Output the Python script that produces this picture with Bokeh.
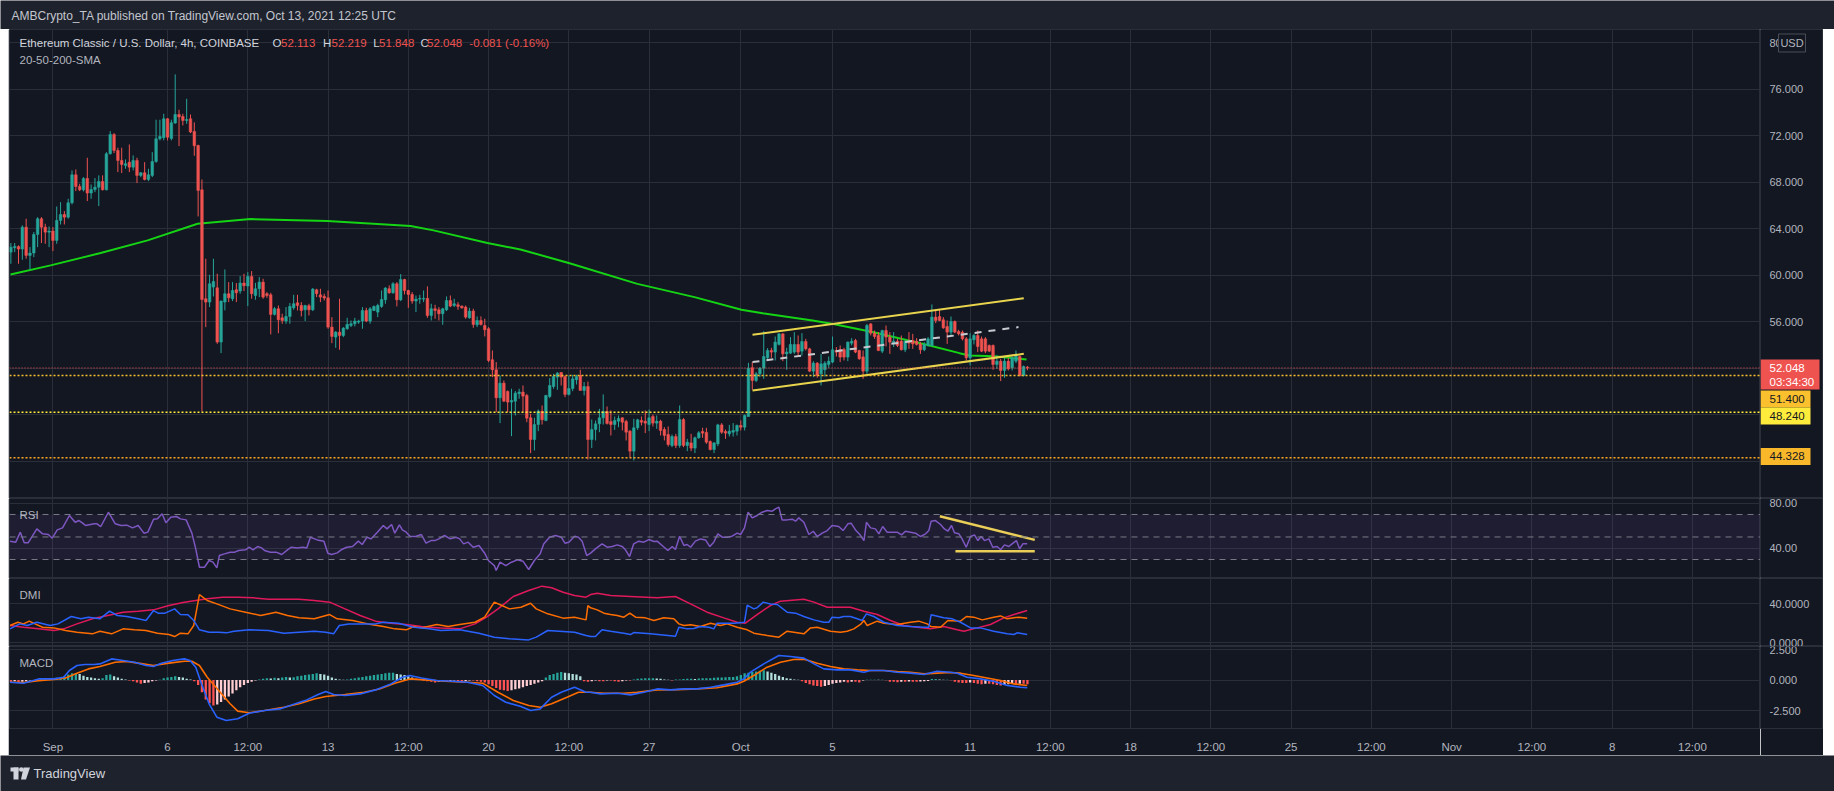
import pandas as pd
from bokeh.plotting import figure
from bokeh.layouts import column, row
from bokeh.models import (Range1d, FixedTicker, Span, Label, BoxAnnotation, Spacer,
                          CustomJSTickFormatter, ColumnDataSource)
from bokeh.core.properties import value
from bokeh.embed import file_html
from bokeh.resources import INLINE

# ---------------- data ----------------
bar_start = "2021-08-30 04:00"   # 4h bars, ETC/USD Coinbase
# (open, high, low, close)
ohlc = [
 (62.01,62.79,61.01,62.44),(62.39,62.79,62.01,62.50),(62.50,62.59,61.01,62.27),(62.27,64.31,61.35,64.16),(64.16,64.88,61.44,61.73),
 (61.73,62.44,60.49,61.93),(61.93,63.73,61.58,63.53),(63.53,65.02,62.44,64.88),(64.88,65.02,62.79,64.16),(64.16,64.45,62.73,63.73),
 (63.73,64.22,62.44,63.82),(63.82,64.16,62.10,63.02),(63.02,65.94,62.73,64.74),(64.74,66.31,64.39,65.25),(65.25,65.54,64.39,65.02),
 (65.02,66.60,64.88,66.26),(66.26,69.04,66.11,68.66),(68.66,69.12,67.26,67.66),(67.66,67.89,67.26,67.37),(67.37,68.46,67.23,68.35),
 (68.35,70.13,66.40,67.09),(67.09,67.83,66.60,67.40),(67.40,68.38,67.17,67.60),(67.60,68.61,65.97,68.09),(68.09,68.61,67.32,67.37),
 (67.37,70.61,67.32,70.47),(70.47,72.42,70.41,72.13),(72.13,72.25,70.53,70.76),(70.76,70.99,68.89,69.90),(69.90,70.99,68.81,69.55),
 (69.47,69.98,69.18,69.61),(69.75,71.27,68.89,69.32),(69.32,70.33,69.04,69.90),(69.90,70.13,67.95,68.61),(68.61,68.89,68.46,68.84),
 (68.84,69.75,68.18,68.26),(68.26,69.18,68.12,68.66),(68.61,70.61,68.46,69.81),(69.81,73.40,69.70,71.76),(71.76,73.40,71.62,71.96),
 (71.85,73.91,71.62,73.48),(73.48,73.54,71.62,71.90),(71.79,73.40,71.62,73.14),(73.11,77.30,73.05,73.85),(73.85,74.26,71.13,73.63),
 (73.68,73.91,72.91,73.34),(73.34,75.20,73.05,73.42),(73.48,73.85,72.25,72.34),(72.39,73.17,70.30,71.16),(71.19,71.25,65.08,67.32),
 (67.37,68.26,48.31,57.94),(58.00,61.44,55.56,57.71),(57.71,60.06,57.28,59.29),(59.00,61.44,58.20,59.49),(58.94,60.15,54.13,54.27),
 (54.27,57.85,53.32,57.80),(57.71,60.52,57.00,58.43),(58.43,59.43,57.71,58.08),(58.00,59.43,57.80,58.71),(58.77,59.35,57.71,58.51),
 (58.66,59.95,58.43,59.35),(59.35,60.15,58.66,59.12),(59.09,60.29,57.37,59.92),(59.92,60.38,58.00,58.43),(58.28,59.37,57.91,58.86),
 (58.86,59.86,58.14,59.43),(59.43,59.72,58.00,58.14),(58.43,58.57,58.08,58.28),(58.34,58.51,54.93,56.65),(56.65,57.28,56.56,57.14),
 (57.14,57.42,55.04,56.19),(56.36,56.71,55.85,56.13),(56.08,57.28,55.85,56.48),(56.48,57.63,55.85,57.34),(57.22,58.34,57.05,57.57),
 (57.65,58.34,56.99,57.42),(57.42,57.71,56.48,56.99),(57.05,57.48,56.08,57.42),(57.40,57.57,56.56,57.05),(57.05,58.92,56.94,58.83),
 (58.77,58.86,58.14,58.43),(58.34,58.86,57.71,58.14),(58.20,58.43,57.85,58.06),(58.08,58.71,55.42,55.56),(55.56,56.42,54.18,54.76),
 (54.70,55.22,53.78,55.13),(55.13,58.00,53.61,54.84),(54.84,55.56,54.70,55.47),(55.42,56.36,55.33,55.79),(55.70,56.13,55.56,55.85),
 (55.85,56.36,55.62,56.08),(55.99,56.19,55.85,56.08),(56.08,57.28,55.42,56.99),(56.99,57.22,55.99,56.08),(56.08,57.28,55.85,57.14),
 (56.99,57.42,56.94,57.34),(56.85,57.57,56.42,57.42),(57.34,58.71,57.22,57.94),(57.91,59.00,57.57,58.92),(58.86,59.15,58.43,58.51),
 (58.51,59.43,58.43,59.29),(59.29,59.43,57.34,57.91),(57.91,60.12,57.80,59.66),(59.66,59.72,58.37,58.71),(58.71,58.77,57.22,58.37),
 (58.37,58.57,57.57,57.80),(57.80,58.28,56.85,57.97),(57.97,58.34,57.57,58.03),(57.97,58.71,57.71,58.03),(58.03,59.06,56.36,56.56),
 (56.56,57.57,56.13,57.14),(57.14,57.48,56.28,56.99),(57.05,57.28,56.13,56.71),(56.71,57.22,55.76,57.14),(57.05,58.20,56.94,57.85),
 (57.85,58.28,57.28,57.37),(57.42,58.00,57.28,57.57),(57.48,57.71,57.05,57.34),(57.37,57.42,57.14,57.22),(57.28,57.42,56.28,56.42),
 (56.36,57.22,56.28,56.94),(56.94,57.14,55.50,55.79),(55.76,56.48,55.56,56.13),(56.13,56.48,55.70,55.79),(55.70,56.28,54.76,55.33),
 (55.42,55.56,52.55,52.69),(52.75,53.55,51.26,51.89),(51.89,52.55,48.25,49.48),(49.48,51.40,47.30,50.74),(50.74,50.97,49.11,49.19),
 (50.03,50.11,48.25,49.11),(49.11,50.26,46.18,49.25),(49.19,50.06,47.96,49.88),(49.83,50.26,49.40,49.97),
 (49.97,50.54,48.25,49.62),(49.68,49.82,47.38,47.73),(47.76,48.10,44.72,45.89),(45.89,47.76,44.95,47.18),(47.18,48.47,46.61,48.33),
 (48.33,48.82,47.18,47.59),(47.53,49.74,47.47,49.68),(49.59,51.17,49.45,50.54),(50.45,51.54,50.25,51.31),(51.26,51.69,50.17,51.60),
 (51.66,51.69,50.54,51.26),(51.31,51.40,49.54,49.77),(49.77,51.40,49.68,50.28),(50.28,51.46,50.05,51.11),(51.03,51.46,50.62,51.31),
 (51.40,51.89,50.11,50.11),(50.11,50.83,49.68,50.45),(50.45,50.88,44.17,45.89),(45.89,47.61,45.15,46.75),(46.75,47.53,45.81,47.24),
 (47.24,48.53,46.52,47.76),(47.76,49.77,47.18,48.30),(48.30,48.73,47.18,47.27),(47.44,48.39,46.24,47.18),(47.18,47.87,46.72,47.53),
 (47.47,47.96,46.95,47.70),(47.76,47.81,46.67,47.38),(47.44,47.59,45.81,46.52),(46.61,46.72,44.37,44.89),(44.89,47.67,44.09,46.90),
 (46.90,47.67,46.72,47.59),(47.53,47.87,47.10,47.38),(47.47,48.39,46.44,47.30),(47.18,48.47,46.61,47.76),(47.87,48.04,47.01,47.30),
 (47.30,47.96,46.81,47.47),(47.47,47.59,46.24,46.67),(46.75,46.95,45.81,46.24),(46.32,47.01,45.29,45.46),(45.38,46.32,45.23,46.15),
 (46.15,46.38,45.15,45.38),(45.38,48.82,45.18,47.61),(47.61,47.73,45.23,45.38),(45.38,45.95,44.89,45.66),(45.60,46.38,44.89,45.15),
 (45.15,46.15,44.72,46.04),(46.04,46.61,45.95,46.47),(46.58,46.90,46.04,46.44),(46.50,46.90,45.52,45.66),(45.72,45.81,44.95,45.03),
 (45.03,45.66,44.72,45.60),(45.52,47.24,45.32,47.15),(47.15,47.30,46.38,46.52),(46.58,46.75,45.95,46.44),(46.38,47.15,46.15,46.61),
 (46.52,47.30,46.15,46.67),(46.61,47.18,46.24,47.10),(47.10,47.53,46.67,46.95),(46.95,48.04,46.67,47.96),(47.87,52.49,47.87,52.03),
 (52.06,52.55,50.17,50.97),(50.97,51.69,50.83,51.54),(51.54,52.12,51.26,52.03),(52.03,55.21,51.11,53.03),(52.92,53.75,52.69,53.55),
 (53.55,53.78,52.92,53.41),(53.41,54.75,52.69,54.27),(54.07,55.04,53.98,54.98),(54.98,55.04,52.63,53.26),(53.26,53.78,51.89,53.41),
 (53.32,54.70,53.26,54.07),(53.41,55.13,53.26,54.07),(54.07,54.84,53.03,53.41),(53.49,55.04,53.12,54.32),(54.32,54.55,53.55,53.69),
 (53.69,53.78,51.69,51.77),(51.77,52.63,51.26,52.46),(52.46,52.55,51.20,51.40),(51.54,53.26,50.54,52.40),(51.89,52.63,51.31,52.46),
 (52.35,53.03,52.06,52.63),(52.55,54.75,52.46,53.61),(53.55,53.84,53.03,53.41),(53.61,53.98,52.55,52.98),(53.63,53.78,52.69,52.98),
 (52.98,54.32,52.63,54.27),(54.18,54.61,53.98,54.35),(54.41,54.55,53.32,53.41),(53.55,53.61,52.75,52.83),(53.00,53.55,51.11,51.77),
 (51.77,55.84,51.54,55.70),(55.84,55.90,54.84,55.04),(55.04,55.27,54.55,54.75),(54.84,55.13,53.49,53.55),(53.49,55.33,53.32,55.27),
 (55.27,55.70,53.89,54.70),(54.70,55.13,53.26,54.27),(54.18,55.13,53.84,54.35),(54.35,54.55,53.84,53.98),(54.35,54.84,53.55,53.61),
 (53.61,54.47,53.41,54.35),(54.35,55.13,53.69,54.18),(54.41,54.98,53.69,54.12),(54.35,54.61,53.98,54.07),(54.12,54.27,53.26,53.61),
 (53.61,54.27,53.49,54.07),(54.00,54.70,53.89,54.55),(53.98,57.51,53.89,56.42),(56.42,57.05,55.90,56.13),(56.47,57.13,56.07,56.13),
 (56.19,56.42,55.41,55.50),(55.61,56.13,54.12,55.13),(55.13,56.47,54.84,56.04),(56.04,56.13,55.04,55.13),(55.18,55.33,54.84,54.98),
 (55.13,55.27,54.41,54.55),(54.55,54.70,52.69,52.92),(52.92,55.04,52.26,54.55),(54.47,54.98,54.07,54.84),(54.84,55.27,53.41,53.89),
 (54.55,54.75,53.41,53.49),(54.55,54.70,53.32,53.49),(53.98,54.07,53.41,53.49),(53.98,54.07,51.89,52.35),(52.35,53.12,51.97,52.63),
 (52.63,52.83,50.91,51.83),(51.83,52.92,51.20,52.63),(52.63,52.92,51.83,51.97),(52.06,53.03,51.83,52.92),(52.63,53.55,52.46,53.12),
 (53.03,53.12,51.31,51.40),(51.40,52.26,51.31,52.17),(52.113,52.219,51.848,52.048),
]

# 200-SMA (day since Sep 1, value)
sma200 = [(-1.85,60.09),(-0.10,60.87),(2.08,61.93),(4.13,63.02),(6.31,64.45),(8.62,64.85),(11.97,64.68),
          (15.60,64.25),(16.60,63.88),(18.95,62.79),(20.39,62.24),(22.53,61.06),(25.49,59.28),(27.98,58.14),
          (30.03,57.05),(30.95,56.76),(33.13,56.13),(34.09,55.80),(35.79,55.12),(38.10,54.05),(39.54,53.32),
          (39.97,53.12),(41.06,53.05),(42.46,52.77)]

# drawn channel (day, price)
channel_upper = [(30.51, 54.90), (42.34, 58.05)]
channel_lower = [(30.51, 50.11), (42.34, 53.26)]
channel_mid = [(30.51, 52.55), (42.11, 55.56)]

last_price = 52.048
level_a = 51.400
level_b = 48.240
level_c = 44.328

rsi = [(-1.87,46.3),(-1.62,45.4),(-1.42,54.3),(-1.25,44.8),(-1.08,44.8),(-0.70,57.2),(-0.45,52.8),(-0.20,52.2),
 (-0.03,48.9),(0.19,56.3),(0.42,58.1),(0.72,69.1),(0.97,63.1),(1.14,64.6),(1.30,62.3),(1.42,60.2),(1.80,61.7),
 (1.92,61.7),(2.09,59.3),(2.42,72.0),(2.72,61.7),(2.97,60.2),(3.22,60.5),(3.47,58.1),(3.72,60.2),(3.97,53.4),
 (4.14,54.3),(4.39,65.8),(4.56,66.1),(4.76,70.6),(4.93,62.6),(5.14,67.6),(5.39,68.2),(5.56,66.1),(5.81,65.2),
 (6.06,53.4),(6.23,39.4),(6.39,23.1),(6.61,23.1),(6.81,29.1),(6.98,27.6),(7.15,22.6),(7.26,33.5),(7.48,35.0),
 (7.73,36.5),(7.93,36.5),(8.10,38.0),(8.40,38.6),(8.56,40.9),(8.73,38.6),(8.93,41.5),(9.10,40.3),(9.23,38.0),
 (9.48,36.5),(9.73,36.5),(9.98,34.4),(10.23,38.6),(10.40,40.9),(10.65,40.3),(10.90,40.9),(11.07,40.3),(11.23,49.8),
 (11.53,47.4),(11.82,46.3),(11.99,35.6),(12.15,34.4),(12.40,35.9),(12.57,38.6),(12.82,40.9),(13.07,41.5),(13.32,46.3),
 (13.49,43.3),(13.70,49.8),(13.87,48.3),(14.15,54.3),(14.41,60.2),(14.57,57.2),(14.77,61.1),(14.91,53.4),(15.11,60.8),
 (15.24,56.3),(15.41,54.3),(15.57,50.7),(15.82,50.4),(16.07,52.2),(16.27,44.5),(16.49,46.8),(16.66,46.8),(16.83,48.3),
 (17.08,51.3),(17.33,48.3),(17.58,49.8),(17.74,48.3),(17.91,43.9),(18.11,45.4),(18.33,40.9),(18.58,42.4),(18.83,35.6),
 (18.99,29.1),(19.25,24.6),(19.33,20.2),(19.50,27.6),(19.75,24.6),(20.00,27.6),(20.25,29.7),(20.50,28.5),(20.75,21.1),
 (21.00,29.1),(21.25,35.0),(21.41,43.9),(21.66,49.8),(21.92,51.3),(22.17,49.8),(22.33,44.5),(22.50,45.4),(22.75,50.7),
 (22.92,49.8),(23.08,46.3),(23.28,33.5),
 (23.45,35.6),(23.66,39.4),(23.95,43.9),(24.17,40.9),(24.39,41.5),(24.61,43.0),(24.83,41.5),(24.97,38.6),(25.15,32.6),
 (25.33,43.9),(25.55,46.3),(25.77,45.4),(25.99,47.7),(26.21,46.0),(26.35,46.3),(26.57,42.4),(26.82,38.0),(27.01,41.5),
 (27.15,38.9),(27.33,50.7),(27.52,42.4),(27.66,43.3),(27.81,40.9),(28.02,46.3),(28.24,48.3),(28.46,47.4),(28.65,41.5),
 (28.82,45.4),(29.00,52.8),(29.19,49.8),(29.41,49.8),(29.62,50.7),(29.84,53.4),(29.99,52.2),(30.16,58.1),(30.32,72.0),
 (30.50,67.0),(30.71,69.1),(30.93,72.0),(31.15,73.5),(31.37,72.9),(31.51,75.0),(31.66,76.5),(31.80,65.2),(32.02,65.2),
 (32.24,65.8),(32.39,64.0),(32.53,67.0),(32.75,63.1),(32.97,52.2),(33.16,55.1),(33.33,50.4),(33.55,53.4),(33.77,55.7),
 (33.98,60.2),(34.27,59.3),(34.46,55.7),(34.67,61.7),(34.81,62.3),(35.00,56.3),(35.19,52.2),(35.37,46.8),(35.48,63.1),
 (35.66,58.1),(35.87,57.2),(36.02,52.8),(36.19,59.3),(36.38,54.3),(36.60,54.3),(36.82,54.3),(37.01,51.9),(37.18,55.1),
 (37.40,54.3),(37.62,53.4),(37.84,50.4),(38.06,52.8),(38.20,55.7),(38.30,64.0),(38.49,64.6),(38.71,61.1),(38.88,57.2),
 (39.03,55.1),(39.19,60.2),(39.32,53.7),(39.51,52.8),(39.65,48.3),(39.83,40.9),(40.02,50.4),(40.19,51.9),(40.34,46.8),
 (40.48,50.4),(40.63,46.8),(40.82,48.3),(40.99,40.9),(41.18,41.5),(41.33,38.6),(41.50,43.0),(41.69,41.5),(41.83,43.9),
 (42.02,46.8),(42.16,39.4),(42.30,43.9),(42.49,43.9)]
rsi_trend = [(38.68, 68.5), (42.82, 47.4)]
rsi_support = [(39.36, 37.4), (42.82, 37.4)]

adx = [(-1.87,17.7),(-1.28,16.0),(-0.62,14.3),(0.05,12.6),(0.47,14.3),(1.05,19.4),(1.72,24.6),(2.39,28.0),(3.06,31.4),
 (3.72,32.4),(4.39,33.8),(5.06,38.2),(5.73,41.7),(6.23,43.4),(6.73,45.1),(7.40,46.8),(8.06,46.8),(8.73,46.1),(9.40,44.7),
 (10.07,44.7),(10.73,44.7),(11.40,43.4),(12.07,41.7),(12.74,34.8),(13.40,28.0),(14.07,22.2),(14.74,20.1),(15.41,18.8),
 (16.07,16.7),(16.91,15.3),(17.74,14.3),(18.41,19.4),(18.91,26.3),(19.41,34.8),(20.08,47.5),(20.75,53.6),(21.33,58.1),
 (21.75,56.4),(22.25,51.9),(22.75,48.5),(23.25,46.8),(23.45,49.5),(23.74,50.9),(24.32,48.5),(25.19,47.5),(26.35,46.1),
 (27.15,47.5),(27.81,39.9),(28.53,31.4),(29.26,25.6),(29.84,21.1),(30.20,20.1),(30.71,29.0),(31.29,38.2),(31.73,42.7),
 (32.75,44.7),(33.19,41.7),(33.77,36.5),(34.78,36.5),(35.37,32.4),(35.95,29.0),(36.53,22.9),(37.11,17.7),(37.69,16.0),
 (38.27,14.3),(38.85,16.7),(39.44,13.3),(39.73,11.9),(40.31,15.3),(40.89,18.8),(41.47,25.6),(41.91,29.0),(42.49,33.1)]
plus_di = [(-1.87,14.3),(-1.45,19.4),(-1.12,17.7),(-0.70,21.1),(-0.12,17.7),(0.22,19.4),(0.80,27.0),(1.22,24.6),
 (1.55,26.3),(2.05,24.6),(2.47,32.4),(2.81,28.0),(3.22,27.0),(3.72,24.6),(4.06,22.9),(4.39,33.1),(4.59,30.4),(4.89,30.4),
 (5.31,34.8),(5.56,29.0),(5.89,28.7),(6.14,22.9),(6.39,13.3),(6.81,10.9),(7.23,10.9),(7.56,10.2),(7.90,11.9),(8.56,13.3),
 (9.40,12.6),(10.07,9.9),(10.73,10.9),(11.40,11.9),(11.90,10.9),(12.24,9.2),(12.49,17.7),(12.90,19.4),(13.40,19.4),
 (14.07,19.4),(14.41,21.1),(15.07,20.1),(15.74,16.0),(16.41,14.3),(16.91,12.6),(17.74,13.3),(18.58,9.9),(19.25,5.8),
 (19.91,4.1),(20.75,3.0),(21.08,5.8),(21.58,12.6),(22.08,11.9),(22.75,10.9),(23.25,7.5),
 (23.45,6.4),(23.66,6.4),(23.95,13.3),(24.32,11.9),(24.90,9.9),(25.19,8.5),(25.33,10.5),(26.06,9.2),(27.15,6.8),
 (27.30,16.0),(27.66,14.3),(27.95,14.7),(28.24,16.7),(28.61,16.0),(28.82,14.3),(28.97,20.1),(29.26,20.1),(29.70,20.1),
 (30.16,21.1),(30.28,38.6),(30.57,34.8),(30.71,35.9),(30.98,41.7),(31.29,39.9),(31.59,39.3),(32.02,31.4),(32.39,30.4),
 (32.75,27.0),(33.19,23.5),(33.62,21.1),(33.84,21.1),(33.98,26.3),(34.27,25.6),(34.49,27.0),(34.78,27.0),(35.08,24.6),
 (35.29,22.9),(35.48,29.7),(35.80,27.0),(36.24,21.1),(36.82,17.7),(37.40,16.7),(37.98,16.0),(38.20,16.0),(38.30,28.7),
 (38.85,25.6),(39.22,24.6),(39.58,21.1),(40.02,15.3),(40.45,15.3),(41.03,11.9),(41.62,9.2),(41.91,8.5),(42.05,10.2),(42.49,8.5)]
minus_di = [(-1.87,17.7),(-1.53,21.1),(-1.28,19.4),(-1.03,22.2),(-0.78,19.4),(-0.45,16.0),(0.05,15.3),(0.55,12.6),
 (1.05,10.9),(1.72,9.2),(2.05,11.9),(2.56,9.2),(3.06,14.3),(3.56,13.3),(4.06,12.6),(4.56,9.9),(5.06,8.5),(5.31,6.4),
 (5.56,9.9),(5.89,9.2),(6.14,17.7),(6.39,49.5),(6.73,43.4),(7.15,39.9),(7.73,34.8),(8.40,31.4),(9.06,28.0),(9.73,31.4),
 (10.23,28.0),(10.73,25.6),(11.40,24.6),(12.07,29.0),(12.40,24.6),(13.07,22.9),(13.74,19.4),(14.41,16.7),(14.91,14.3),
 (15.41,13.3),(15.74,16.7),(16.07,15.3),(16.74,18.8),(17.24,16.7),(17.74,18.8),(18.41,21.1),(18.83,26.3),(19.25,41.7),
 (19.58,38.2),(19.91,34.8),(20.41,36.5),(20.83,40.6),(21.08,34.8),(21.58,29.7),(22.25,25.3),(22.75,26.3),(23.25,23.5),
 (23.33,38.2),(23.45,35.9),(23.74,33.8),(24.03,30.4),(24.32,29.0),(24.61,28.0),(24.90,26.3),(25.16,30.4),(25.41,26.3),
 (25.84,25.6),(26.21,22.9),(26.64,25.6),(27.08,24.6),(27.30,19.4),(27.52,17.7),(27.81,18.4),(28.24,16.7),(28.68,20.1),
 (29.11,17.7),(29.41,19.4),(29.84,16.0),(30.28,13.3),(30.57,9.9),(31.15,7.5),(31.66,5.8),(32.02,11.9),(32.31,10.9),
 (32.75,9.2),(33.04,15.3),(33.33,16.0),(33.91,11.9),(34.35,10.9),(34.64,11.9),(34.93,14.3),(35.22,18.8),(35.37,22.9),
 (35.51,17.7),(35.95,22.2),(36.24,20.1),(36.82,18.8),(37.40,21.1),(37.76,22.2),(38.13,19.4),(38.30,16.7),(38.71,16.0),
 (39.03,22.9),(39.58,22.2),(39.84,27.0),(40.16,26.3),(40.53,23.5),(41.03,26.3),(41.33,27.6),(41.62,24.6),(41.91,25.6),
 (42.13,26.3),(42.49,25.3)]

macd_line = [(-1.87,-0.18),(-1.28,-0.26),(-0.62,0.09),(0.05,0.09),(0.47,0.23),(0.72,0.78),(1.05,1.19),(1.39,1.27),
 (1.80,1.27),(2.05,1.32),(2.56,1.73),(3.06,1.60),(3.56,1.46),(4.06,1.19),(4.39,1.11),(4.73,1.38),(5.23,1.60),(5.73,1.73),
 (5.98,1.60),(6.23,1.05),(6.48,-0.30),(6.81,-1.95),(7.15,-3.05),(7.56,-3.32),(8.06,-3.18),(8.56,-2.72),(9.23,-2.50),
 (9.90,-2.37),(10.57,-1.95),(11.07,-1.63),(11.57,-1.19),(11.90,-0.94),(12.24,-1.19),(12.74,-1.27),(13.40,-1.14),
 (14.07,-0.81),(14.74,-0.32),(15.24,0.23),(15.57,0.37),(16.07,0.17),(16.74,-0.04),(17.41,-0.10),(18.08,-0.18),
 (18.74,-0.45),(19.25,-1.27),(19.75,-1.82),(20.41,-2.17),(20.83,-2.50),(21.25,-2.37),(21.75,-1.41),(22.17,-1.00),
 (22.75,-0.59),(23.25,-1.00),(23.45,-1.00),(23.88,-1.14),(24.61,-1.08),(25.19,-1.22),(25.77,-1.00),(26.35,-0.73),
 (26.93,-0.81),(27.52,-0.73),(28.10,-0.73),(28.68,-0.59),(29.26,-0.40),(29.84,-0.18),(30.13,0.09),(30.42,0.64),
 (31.00,1.32),(31.66,2.01),(32.17,1.92),(32.75,1.79),(33.19,1.32),(33.62,0.91),(34.20,0.83),(34.78,0.83),(35.37,0.64),
 (35.66,0.78),(36.24,0.78),(36.82,0.64),(37.40,0.56),(37.98,0.45),(38.56,0.72),(39.14,0.64),(39.44,0.56),(39.87,0.23),
 (40.45,0.09),(41.03,-0.10),(41.62,-0.45),(42.20,-0.59),(42.49,-0.64)]
macd_signal = [(-1.87,-0.18),(-1.28,-0.21),(-0.62,-0.05),(0.05,0.04),(0.55,0.17),(1.05,0.56),(1.55,0.91),(2.05,1.11),
 (2.72,1.46),(3.22,1.52),(3.72,1.38),(4.39,1.19),(5.06,1.38),(5.73,1.54),(6.06,1.54),(6.39,1.19),(6.73,0.23),(7.23,-0.86),
 (7.73,-1.95),(8.06,-2.55),(8.56,-2.69),(9.23,-2.50),(10.07,-2.23),(10.73,-1.95),(11.40,-1.55),(11.90,-1.35),(12.74,-1.19),
 (13.57,-1.00),(14.24,-0.73),(14.91,-0.27),(15.57,0.09),(16.24,0.01),(17.08,-0.10),(18.08,-0.18),(18.74,-0.26),
 (19.41,-1.00),(20.08,-1.68),(20.75,-2.09),(21.25,-2.23),(21.75,-1.95),(22.42,-1.41),(22.92,-1.00),(23.42,-1.00),
 (24.03,-1.08),(24.90,-1.08),(25.48,-1.00),(26.35,-0.81),(27.22,-0.79),(28.10,-0.73),(28.97,-0.64),(29.84,-0.32),
 (30.13,-0.10),(30.57,0.37),(31.15,1.05),(31.73,1.46),(32.31,1.68),(32.75,1.71),(33.33,1.38),(33.91,1.10),(34.49,0.91),
 (35.08,0.83),(35.66,0.78),(36.24,0.78),(36.82,0.69),(37.40,0.64),(37.98,0.50),(38.56,0.56),(39.14,0.61),(39.58,0.56),
 (40.16,0.37),(40.74,0.17),(41.33,-0.04),(41.91,-0.32),(42.49,-0.45)]
# histogram, one value per 4h bar
macd_hist = [
 -0.15,-0.1,-0.2,-0.15,-0.1,-0.05,-0.05, 0.05,0.1,0.1,0.12,0.15,0.18,0.2, 0.3,0.45,0.55,0.55,0.5,
 0.35,0.25,0.2,0.15,0.1,0.15, 0.4,0.45,0.3, 0.2,0.1,0.05, -0.05,-0.1,-0.2,-0.3,-0.25,-0.2,-0.1, -0.05,0.02,
 0.15,0.2,0.25,0.3,0.25,0.2, 0.1,0.05,
 -0.1,-0.4,-1.0,-1.6,-1.9,-2.1,-2.0,-1.8,-1.6,-1.35,-1.1,-0.85,-0.6,-0.4,-0.25,-0.15,-0.05,
 0.05,0.1,0.15,0.12,0.18,0.15,0.2,0.25,0.2,0.22, 0.3,0.35,0.4,0.45,0.5,0.55,0.5,0.45,0.35,0.2,
 0.1,0.05,0.03,0.05,0.1, 0.15,0.2,0.25,0.3,0.35,0.4,0.45,0.5,0.55,0.6, 0.6,0.5,0.45,0.4,0.3,
 0.2,0.1,0.05,-0.05,-0.1, -0.15,-0.2,-0.15,-0.1,-0.12,-0.08,-0.05,-0.1, -0.1,-0.08,-0.05,-0.05,-0.1,-0.15,-0.2,
 -0.35,-0.5,-0.65,-0.8,-0.85,-0.9,-0.85,-0.75, -0.7,-0.6,-0.5,-0.4,-0.3,-0.2,-0.1,
 0.2,0.4,0.5,0.6,0.65,0.6,0.55,0.5,0.45,0.3, -0.1,-0.15,
 -0.1,-0.05,-0.1,-0.1,-0.05,-0.05, -0.1,-0.15,-0.1,-0.05,-0.05, 0.05,0.1,0.12,0.15,0.15,0.15,0.12,0.1,
 0.05,0.02,-0.05, 0.05,0.05,0.08,0.1,0.1,0.08, 0.12,0.15,0.15,0.15,0.18,0.2,0.2,0.22,0.25,0.25,
 0.3,0.4,0.55,0.6,0.65,0.7,0.75,0.8, 0.7,0.6,0.5,0.35,0.25, 0.15,0.1,0.05,0.02,
 -0.1,-0.25,-0.35,-0.45,-0.5,-0.55, -0.5,-0.4,-0.3,-0.25,-0.2, -0.15,-0.2,-0.15,-0.15,-0.2,
 -0.05,0.03,0.03,0.03,0.02,0.02,-0.03, -0.15,-0.15,-0.18,-0.15,-0.15,-0.12,-0.15,-0.15,-0.12,-0.1,-0.08,
 0.08,0.08,0.05, 0.02,0.02,-0.03, -0.15,-0.2,-0.25,-0.25,-0.2,-0.25,-0.3,-0.35,
 -0.3,-0.3,-0.35,-0.4,-0.45,-0.4,-0.35,-0.3,-0.35,-0.3,-0.3,-0.35]

tick_days = [0, 5, 8.5, 12, 15.5, 19, 22.5, 26, 30, 34, 40, 43.5, 47, 50.5, 54, 57.5, 61, 64.5, 68, 71.5]
tick_labels = ["Sep", "6", "12:00", "13", "12:00", "20", "12:00", "27", "Oct", "5", "11", "12:00",
               "18", "12:00", "25", "12:00", "Nov", "12:00", "8", "12:00"]
price_ticks = [44, 48, 52, 56, 60, 64, 68, 72, 76, 80]
rsi_ticks = [40, 80]
dmi_ticks = [0, 40]
macd_ticks = [-2.5, 0, 2.5]

# ---------------- style ----------------
BG = "#131722"; PAGE = "#1e222d"; GRID = "#2a2e39"; TXT = "#b2b5be"; LIGHT = "#d1d4dc"
UP = "#26a69a"; DOWN = "#ef5350"
SANS = "Liberation Sans"
PW = 1752          # pane width (page x 8 .. 1760), frame starts at x = 9
AW = 63            # price-scale column (1760 .. 1823)
xr = Range1d(-1.893, 74.47)

times = pd.date_range(bar_start, periods=len(ohlc), freq="4h")
day = ((times - pd.Timestamp("2021-09-01")) / pd.Timedelta(days=1)).to_numpy()
n = min(len(day), len(macd_hist))

xfmt = CustomJSTickFormatter(args=dict(days=tick_days, labels=tick_labels), code="""
const i = days.indexOf(tick); return i >= 0 ? labels[i] : "";""")


def pane(h, yr, ticks, bottom=0, show_x=False):
    p = figure(width=PW, height=h, x_range=xr, y_range=yr, output_backend="svg",
               toolbar_location=None, y_axis_location=None, background_fill_color=BG,
               border_fill_color=BG, min_border_left=1, min_border_right=0, min_border_top=0,
               min_border_bottom=bottom, outline_line_color=GRID)
    p.ygrid.ticker = FixedTicker(ticks=ticks)
    p.ygrid.grid_line_color = GRID
    xt = FixedTicker(ticks=tick_days)
    p.xaxis.ticker = xt
    p.xgrid.ticker = xt
    p.xgrid.grid_line_color = GRID
    p.xaxis.formatter = xfmt
    if show_x:
        p.xaxis.axis_line_color = GRID
        p.xaxis.major_tick_line_color = None
        p.xaxis.minor_tick_line_color = None
        p.xaxis.major_label_text_color = TXT
        p.xaxis.major_label_text_font = SANS
        p.xaxis.major_label_text_font_size = "11.5px"
        p.xaxis.major_label_standoff = 6
    else:
        p.xaxis.visible = False
    return p


def scale(h, yr, ticks, fmt, bottom=0):
    a = figure(width=AW, height=h, x_range=Range1d(0, AW), y_range=yr, output_backend="svg",
               toolbar_location=None, x_axis_location=None, y_axis_location=None,
               background_fill_color=BG, border_fill_color=BG, outline_line_color=GRID,
               min_border_left=0, min_border_right=0, min_border_top=0, min_border_bottom=bottom)
    a.grid.visible = False
    a.text(x=[9] * len(ticks), y=ticks, text=[fmt.format(t) for t in ticks], text_color=TXT,
           text_font=value(SANS), text_font_size=value("11px"), text_baseline="middle")
    return a


def lab(p, x, y, text, color=TXT, size="11.5px"):
    p.add_layout(Label(x=x, y=y, x_units="screen", text=text, text_color=color, text_font=SANS,
                       text_font_size=size, text_baseline="middle"))


# ---------------- header ----------------
head = figure(width=1834, height=29, x_range=Range1d(0, 1834), y_range=Range1d(29, 0),
              output_backend="svg", toolbar_location=None, x_axis_location=None, y_axis_location=None,
              background_fill_color=PAGE, border_fill_color=PAGE, outline_line_color=None, min_border=0)
head.grid.visible = False
head.add_layout(Label(x=11, y=15, text="AMBCrypto_TA published on TradingView.com, Oct 13, 2021 12:25 UTC",
                      text_color="#c3c6ce", text_font=SANS, text_font_size="12px", text_baseline="middle"))

# ---------------- main price pane ----------------
main_yr = Range1d(40.817, 81.161)
MH = 469
ppu = MH / (main_yr.end - main_yr.start)
main = pane(MH, main_yr, price_ticks)

o = [r[0] for r in ohlc]; hi_ = [r[1] for r in ohlc]; lo_ = [r[2] for r in ohlc]; c = [r[3] for r in ohlc]
col = [UP if c[i] >= o[i] else DOWN for i in range(len(ohlc))]
src = ColumnDataSource(dict(x=day, h=hi_, l=lo_, top=[max(a, b) for a, b in zip(o, c)],
                            bot=[min(a, b) for a, b in zip(o, c)], col=col))

for lvl, clr, dash, lw in [(last_price, DOWN, "1 2", 1), (level_a, "#fbc02d", "2 2", 1.6),
                           (level_b, "#ffeb3b", "2 2", 1.6), (level_c, "#f9a825", "2 2", 1.6)]:
    main.add_layout(Span(location=lvl, dimension="width", line_color=clr, line_dash=dash, line_width=lw))

main.line([d for d, v in sma200], [v for d, v in sma200], line_color="#14d414", line_width=2)
main.segment(x0="x", y0="l", x1="x", y1="h", line_color="col", line_width=1, source=src)
main.vbar(x="x", width=0.115, top="top", bottom="bot", fill_color="col", line_color="col",
          line_width=0.5, source=src)
for pts in (channel_upper, channel_lower):
    main.line([d for d, v in pts], [v for d, v in pts], line_color="#e8d44d", line_width=2)
main.line([d for d, v in channel_mid], [v for d, v in channel_mid], line_color="#c8cad0",
          line_width=2, line_dash="7 7")

hy1 = main_yr.end - 13 / ppu
hy2 = main_yr.end - 30 / ppu
lab(main, 10, hy1, "Ethereum Classic / U.S. Dollar, 4h, COINBASE", color=LIGHT)
for xx, t, cl in [(263, "O", LIGHT), (271.5, "52.113", DOWN), (313.5, "H", LIGHT), (322, "52.219", DOWN),
                  (363.7, "L", LIGHT), (369.6, "51.848", DOWN), (411, "C", LIGHT), (417.5, "52.048", DOWN),
                  (459.8, "-0.081 (-0.16%)", DOWN)]:
    lab(main, xx, hy1, t, color=cl)
lab(main, 10, hy2, "20-50-200-SMA", color=TXT)

main_sc = scale(MH, main_yr, price_ticks, "{:.3f}")
# price tags on the scale
tags = [  # (centre, px above, px below, right, fill, text colour, lines)
    (last_price, 8.4, 21.6, 59, DOWN, "#ffffff", ["52.048", "03:34:30"]),
    (level_a - 23.6 / ppu, 8.5, 8.5, 50, "#fbc02d", "#131722", ["51.400"]),
    (level_b - 3.8 / ppu, 8.5, 8.5, 50, "#ffeb3b", "#131722", ["48.240"]),
    (level_c + 1.2 / ppu, 8.5, 8.5, 50, "#f9b82a", "#131722", ["44.328"]),
]
for cy, up_, dn_, rgt, fill, fg, lines in tags:
    main_sc.quad(left=0, right=rgt, top=cy + up_ / ppu, bottom=cy - dn_ / ppu, fill_color=fill, line_color=None)
    main_sc.text(x=[9] * len(lines), y=[cy - 14 * k / ppu for k in range(len(lines))], text=lines,
                 text_color=fg, text_font=value(SANS), text_font_size=value("11.5px"), text_baseline="middle")
main_sc.quad(left=18, right=45, top=80 + 9 / ppu, bottom=80 - 9 / ppu, fill_color=BG,
             line_color="#4a4e5a", line_width=1)
main_sc.text(x=[31.5], y=[80], text=["USD"], text_color=TXT, text_font=value(SANS),
             text_font_size=value("11px"), text_baseline="middle", text_align="center")

# ---------------- RSI ----------------
rsi_yr = Range1d(13.1, 84.2)
prsi = pane(80, rsi_yr, rsi_ticks)
prsi.add_layout(BoxAnnotation(bottom=30, top=70, fill_color="#7e57c2", fill_alpha=0.1, line_color=None))
for lv in (70, 50, 30):
    prsi.add_layout(Span(location=lv, dimension="width", line_color="#787b86", line_dash="6 5", line_width=1))
prsi.line([d for d, v in rsi], [v for d, v in rsi], line_color="#7e57c2", line_width=1.5)
for pts in (rsi_trend, rsi_support):
    prsi.line([d for d, v in pts], [v for d, v in pts], line_color="#f7dc4c", line_width=2.5)
lab(prsi, 10, rsi_yr.end - 16 / (80 / (rsi_yr.end - rsi_yr.start)), "RSI")
rsi_sc = scale(80, rsi_yr, rsi_ticks, "{:.2f}")

# ---------------- DMI ----------------
dmi_yr = Range1d(-3.79, 65.95)
pdmi = pane(68, dmi_yr, dmi_ticks)
pdmi.line([d for d, v in adx], [v for d, v in adx], line_color="#e0195a", line_width=1.5)
pdmi.line([d for d, v in minus_di], [v for d, v in minus_di], line_color="#ff6d00", line_width=1.5)
pdmi.line([d for d, v in plus_di], [v for d, v in plus_di], line_color="#2962ff", line_width=1.5)
lab(pdmi, 10, dmi_yr.end - 16 / (68 / (dmi_yr.end - dmi_yr.start)), "DMI")
dmi_sc = scale(68, dmi_yr, dmi_ticks, "{:.4f}")

# ---------------- MACD ----------------
macd_yr = Range1d(-3.975, 2.746)
pmacd = pane(82 + 27, macd_yr, macd_ticks, bottom=27, show_x=True)
hcol = []
for i in range(n):
    h = macd_hist[i]
    prev = macd_hist[i - 1] if i > 0 else h
    if h >= 0:
        hcol.append("#26a69a" if h >= prev else "#b2dfdb")
    else:
        hcol.append("#ff5252" if h <= prev else "#ffcdd2")
pmacd.vbar(x=day[:n], width=0.1, top=macd_hist[:n], bottom=0, fill_color=hcol, line_color=None)
pmacd.line([d for d, v in macd_signal], [v for d, v in macd_signal], line_color="#ff6d00", line_width=1.6)
pmacd.line([d for d, v in macd_line], [v for d, v in macd_line], line_color="#2962ff", line_width=1.6)
lab(pmacd, 10, macd_yr.end - 16 / (82 / (macd_yr.end - macd_yr.start)), "MACD")
macd_sc = scale(82 + 27, macd_yr, macd_ticks, "{:.3f}", bottom=27)

# ---------------- footer ----------------
foot = figure(width=1834, height=36, x_range=Range1d(0, 1834), y_range=Range1d(36, 0),
              output_backend="svg", toolbar_location=None, x_axis_location=None, y_axis_location=None,
              background_fill_color=PAGE, border_fill_color=PAGE, outline_line_color=None, min_border=0)
foot.grid.visible = False
foot.quad(left=[10, 13], right=[18, 18], top=[12, 12], bottom=[16, 24], fill_color=LIGHT, line_color=None)
foot.scatter(x=[20.8], y=[14], size=4.5, fill_color=LIGHT, line_color=None)
foot.patch([23, 29.5, 25.5, 20.5], [12, 12, 24, 24], fill_color=LIGHT, line_color=None)
foot.add_layout(Label(x=33, y=18, text="TradingView", text_color=LIGHT, text_font=SANS,
                      text_font_size="13px", text_baseline="middle"))


def band(p, a, h):
    return row(Spacer(width=8, height=h), p, a, spacing=0)


layout = column(head, band(main, main_sc, MH), band(prsi, rsi_sc, 80), band(pdmi, dmi_sc, 68),
                band(pmacd, macd_sc, 109), foot, spacing=0)
html = file_html(layout, INLINE, title="ETC/USD 4h")
html = html.replace("<body>", '<body style="background-color:#1e222d;">', 1)
open("out.html", "w").write(html)
